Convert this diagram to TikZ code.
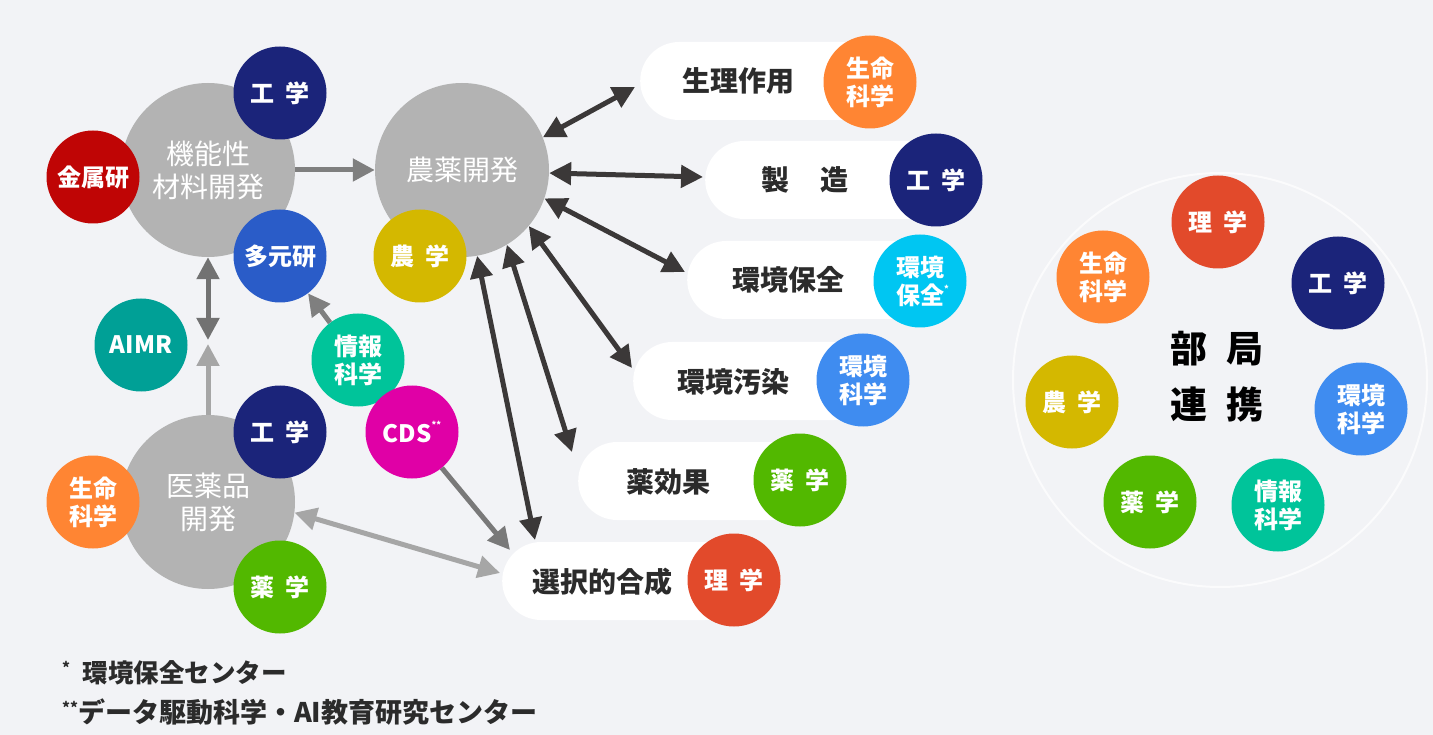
\documentclass[tikz,border=0pt]{standalone}
\usepackage{fontspec}
\setmainfont{Noto Sans CJK JP}
\usetikzlibrary{arrows.meta}
\definecolor{bg}{HTML}{F2F3F6}
\definecolor{bigray}{HTML}{B3B3B3}
\definecolor{navy}{HTML}{1B247A}
\definecolor{metal}{HTML}{BF0505}
\definecolor{tagen}{HTML}{2A5CC8}
\definecolor{aimr}{HTML}{00A096}
\definecolor{orng}{HTML}{FF8533}
\definecolor{grn}{HTML}{52B800}
\definecolor{olive}{HTML}{D4B800}
\definecolor{jouhou}{HTML}{00C49A}
\definecolor{cdsc}{HTML}{E000A6}
\definecolor{lblue}{HTML}{00C6F2}
\definecolor{eblue}{HTML}{3F8CF0}
\definecolor{rigaku}{HTML}{E24A2B}
\definecolor{txt}{HTML}{2B2B2B}
\definecolor{adark}{HTML}{3B3838}
\definecolor{agray}{HTML}{7F7F7F}
\definecolor{alight}{HTML}{A6A6A6}
\newcommand{\smallast}[1]{\raisebox{0.35em}{\fontsize{15}{15}\selectfont #1}}
\begin{document}
\begin{tikzpicture}[x=1pt,y=-1pt,
  big/.style={circle, fill=bigray, minimum size=174pt, inner sep=0pt, text=white, align=center, font=\fontsize{28}{33}\selectfont},
  dept/.style={circle, minimum size=93pt, inner sep=0pt, text=white, align=center, font=\bfseries\fontsize{24}{28}\selectfont},
  pill/.style={fill=white, rounded corners=39pt, minimum height=78pt, inner sep=0pt, anchor=west},
  ptext/.style={text=txt, font=\bfseries\fontsize{28}{30}\selectfont, inner sep=0pt},
  darr/.style={draw=adark, line width=5pt, {Triangle[length=22pt,width=22pt]}-{Triangle[length=22pt,width=22pt]}},
  garr/.style={draw=agray, line width=5pt, -{Triangle[length=22pt,width=22pt]}},
  larr/.style={draw=alight, line width=5pt, {Triangle[length=22pt,width=22pt]}-{Triangle[length=22pt,width=22pt]}},
  foot/.style={text=txt, font=\bfseries\fontsize{25.5}{28}\selectfont, inner sep=0pt, anchor=west}
]
\fill[bg] (0,0) rectangle (1433,735);
\useasboundingbox (0,0) rectangle (1433,735);
% faint ring behind the right cluster
\draw[white, line width=2pt, opacity=0.7] (1220,380) circle[radius=207pt];

% pills
\node[pill, minimum width=240pt] (p1) at (640,81) {};
\node[pill, minimum width=241pt] (p2) at (705,180) {};
\node[pill, minimum width=243pt] (p3) at (687,280) {};
\node[pill, minimum width=240pt] (p4) at (633,381) {};
\node[pill, minimum width=232pt] (p5) at (578,481) {};
\node[pill, minimum width=242pt] (p6) at (502,581) {};

\node[ptext] (t1) at (738,81) {生理作用};
\node[ptext] (t2) at (805,180) {製\hspace{1.1em}造};
\node[ptext] (t3) at (788,280) {環境保全};
\node[ptext] (t4) at (733,382) {環境汚染};
\node[ptext] (t5) at (668,482) {薬効果};
\node[ptext] (t6) at (602,582) {選択的合成};

% big circles
\node[big] (kinou) at (208,170) {機能性\\材料開発};
\node[big] (nouyaku) at (462,170) {農薬開発};
\node[big] (iyaku) at (208,502) {医薬品\\開発};

% department circles, left part
\node[dept, fill=navy] (kogaku1) at (280,93) {工\hspace{0.45em}学};
\node[dept, fill=metal] (kinzoku) at (93,177) {金属研};
\node[dept, fill=tagen] (tagen) at (280,256) {多元研};
\node[dept, fill=aimr] (aimr) at (141,345) {AIMR};
\node[dept, fill=navy] (kogaku2) at (280,432) {工\hspace{0.45em}学};
\node[dept, fill=orng] (seimei1) at (93,502) {生命\\科学};
\node[dept, fill=grn] (yaku1) at (280,587) {薬\hspace{0.45em}学};
\node[dept, fill=olive] (nou1) at (420,256) {農\hspace{0.45em}学};
\node[dept, fill=jouhou] (jouhou1) at (358,360) {情報\\科学};
\node[dept, fill=cdsc] (cds) at (412,432) {CDS\raisebox{0.6em}{\fontsize{9}{9}\selectfont **}};

% department circles beside the pills
\node[dept, fill=orng] (seimei2) at (870,82) {生命\\科学};
\node[dept, fill=navy] (kogaku3) at (936,180) {工\hspace{0.45em}学};
\node[dept, fill=lblue] (hozen) at (920,281) {環境\\保全\rlap{\raisebox{0.5em}{\fontsize{9}{9}\selectfont *}}};
\node[dept, fill=eblue] (kkagaku1) at (863,380) {環境\\科学};
\node[dept, fill=grn] (yaku2) at (800,480) {薬\hspace{0.45em}学};
\node[dept, fill=rigaku] (rigaku1) at (734,580) {理\hspace{0.45em}学};

% right cluster
\node[dept, fill=rigaku] (rigaku2) at (1218,222) {理\hspace{0.45em}学};
\node[dept, fill=navy] (kogaku4) at (1338,283) {工\hspace{0.45em}学};
\node[dept, fill=eblue] (kkagaku2) at (1361,409) {環境\\科学};
\node[dept, fill=jouhou] (jouhou2) at (1278,505) {情報\\科学};
\node[dept, fill=grn] (yaku3) at (1150,502) {薬\hspace{0.45em}学};
\node[dept, fill=olive] (nou2) at (1072,402) {農\hspace{0.45em}学};
\node[dept, fill=orng] (seimei3) at (1103,277) {生命\\科学};
\node[text=black, align=center, inner sep=0pt, font=\bfseries\fontsize{37}{56}\selectfont] (bukyoku) at (1217,377) {部\hspace{0.5em}局\\連\hspace{0.5em}携};

% connector end points
\coordinate (e1) at ([shift={(-5pt,-6pt)}]p1.west);
\coordinate (e2) at ([shift={(-2pt,3pt)}]p2.west);
\coordinate (e3) at ([shift={(-2pt,8pt)}]p3.west);
\coordinate (e4) at ([shift={(-1pt,13pt)}]p4.west);
\coordinate (e5) at ([shift={(-6pt,29pt)}]p5.west);
\coordinate (e6) at ([shift={(33pt,41pt)}]p6.west);
\coordinate (c6) at ([shift={(8pt,31pt)}]p6.west);
\coordinate (g6) at ([shift={(-2pt,8pt)}]p6.west);
\coordinate (m1) at (208,340);
\coordinate (m2) at (208,344);

% connectors
\draw[darr] (nouyaku.22) -- (e1);
\draw[darr] (nouyaku.-2) -- (e2);
\draw[darr] (nouyaku.-19) -- (e3);
\draw[darr] (nouyaku.-40) -- (e4);
\draw[darr] (nouyaku.-59) -- (e5);
\draw[darr] (nouyaku.-80) -- (e6);
\draw[garr] (kinou) -- (nouyaku);
\draw[garr] (jouhou1) -- (tagen);
\draw[garr, draw=agray!95!black] (cds) -- (c6);
\draw[larr] (iyaku.-7) -- (g6);
\draw[draw=agray!90!black, line width=5pt, {Triangle[length=22pt,width=22pt]}-{Triangle[length=22pt,width=22pt]}] (kinou.south) -- (m1);
\draw[draw=alight, line width=5pt, -{Triangle[length=22pt,width=22pt]}] (iyaku.north) -- (m2);

% footnotes
\node[foot] (f1) at (62,673) {\smallast{*}\hspace{0.5em}環境保全センター};
\node[foot, font=\bfseries\fontsize{27}{30}\selectfont] (f2) at (62,712) {\smallast{**}データ駆動科学・AI教育研究センター};
\end{tikzpicture}
\end{document}
